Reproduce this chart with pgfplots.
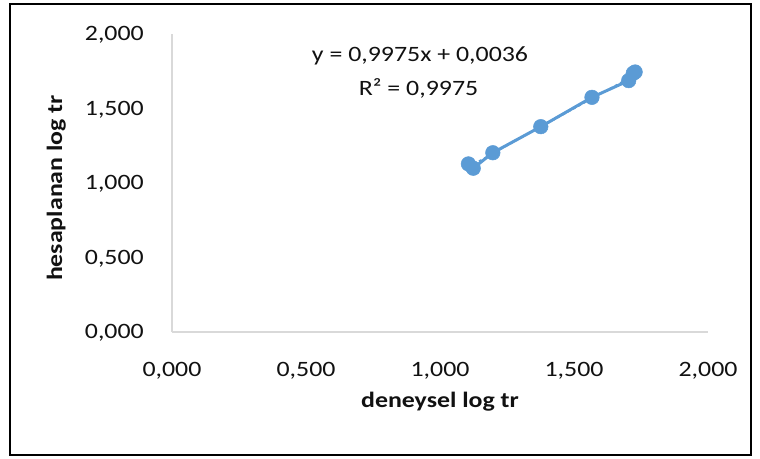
\documentclass[border=0pt]{standalone}
\usepackage{pgfplots}
\pgfplotsset{compat=1.18}
\usepackage{fontspec}
\setmainfont{Carlito}[FakeStretch=1.18]
\definecolor{ser}{HTML}{5B9BD5}
\definecolor{axg}{HTML}{D9D9D9}
\definecolor{txt}{HTML}{111111}
\begin{document}
\begin{tikzpicture}[x=1bp,y=1bp]
\useasboundingbox (0,0) rectangle (760,459);
\draw[line width=2bp] (10,4) rectangle (751,455);
\begin{axis}[
  at={(172bp,127bp)}, anchor=south west,
  scale only axis, width=536bp, height=298bp,
  xmin=0, xmax=2, ymin=0, ymax=2,
  axis lines*=left,
  axis line style={axg, line width=1.2bp},
  major tick length=0pt,
  xtick={0,0.5,1,1.5,2}, ytick={0,0.5,1,1.5,2},
  xticklabels={{0,000},{0,500},{1,000},{1,500},{2,000}},
  yticklabels={{0,000},{0,500},{1,000},{1,500},{2,000}},
  tick label style={font=\fontsize{22}{24}\selectfont, text=txt, inner sep=0pt},
  xticklabel style={anchor=base, yshift=-45bp},
  yticklabel style={anchor=base east, xshift=-28bp, yshift=-7bp},
  xlabel={\textbf{deneysel log tr}},
  ylabel={\textbf{hesaplanan log tr}},
  label style={font=\fontsize{22}{24}\selectfont, text=txt, inner sep=0pt},
  xlabel style={at={(axis description cs:0.5,-0.252)}, anchor=base},
  ylabel style={at={(axis description cs:-0.216,0.483)}, anchor=center, rotate=0},
  clip=false,
]
\addplot[ser, line width=1.6bp, dashed, forget plot] coordinates {(1.106,1.107) (1.728,1.727)};
\addplot[ser, line width=3bp, mark=*, mark size=7.3bp, mark options={solid, fill=ser, draw=ser, line width=0.5bp}] coordinates {
(1.106,1.128)
(1.124,1.099)
(1.197,1.203)
(1.376,1.378)
(1.567,1.575)
(1.704,1.687)
(1.721,1.736)
(1.728,1.745)
};
\node[font=\fontsize{22}{24}\selectfont, text=txt, anchor=base, inner sep=0pt] at (axis description cs:0.4627,0.906) {y = 0,9975x + 0,0036};
\node[font=\fontsize{22}{24}\selectfont, text=txt, anchor=base, inner sep=0pt] at (axis description cs:0.46,0.795) {R² = 0,9975};
\end{axis}
\end{tikzpicture}
\end{document}
